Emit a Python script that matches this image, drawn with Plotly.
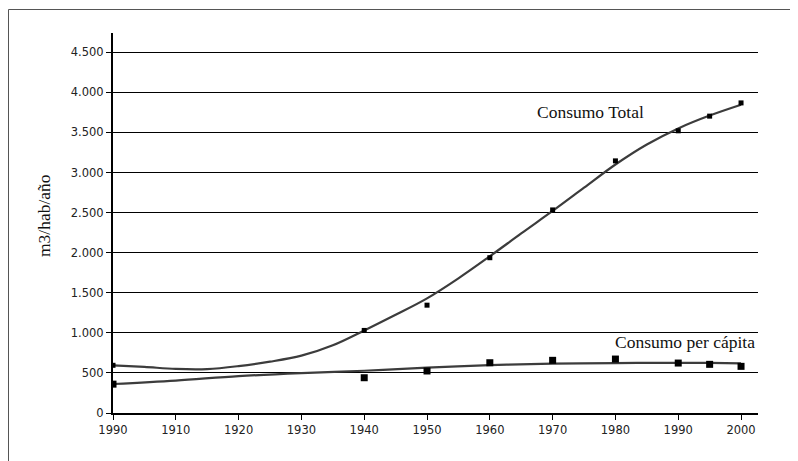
import plotly.graph_objects as go

# Tick labels (as printed on the chart)
x_tickvals = [1900, 1910, 1920, 1930, 1940, 1950, 1960, 1970, 1980, 1990, 2000]
x_ticktext = ["1990", "1910", "1920", "1930", "1940", "1950", "1960", "1970", "1980", "1990", "2000"]
y_tickvals = [0, 500, 1000, 1500, 2000, 2500, 3000, 3500, 4000, 4500]
y_ticktext = ["0", "500", "1.000", "1.500", "2.000", "2.500", "3.000", "3.500", "4.000", "4.500"]

# Observed points
total_years = [1900, 1940, 1950, 1960, 1970, 1980, 1990, 1995, 2000]
total_values = [595, 1030, 1345, 1937, 2533, 3145, 3520, 3703, 3868]
percap_years = [1900, 1940, 1950, 1960, 1970, 1980, 1990, 1995, 2000]
percap_values = [360, 440, 524, 627, 657, 673, 623, 607, 582]

# Trend curves
total_curve_years = [1900, 1905, 1910, 1915, 1920, 1925, 1930, 1935, 1940, 1945, 1950,
                     1955, 1960, 1965, 1970, 1975, 1980, 1985, 1990, 1995, 2000]
total_curve_values = [595, 575, 550, 548, 585, 640, 715, 845, 1030, 1225, 1430,
                      1680, 1955, 2240, 2520, 2810, 3100, 3350, 3550, 3710, 3845]
percap_curve_years = [1900, 1910, 1920, 1930, 1940, 1950, 1960, 1970, 1980, 1990, 1995, 2000]
percap_curve_values = [362, 405, 460, 498, 527, 566, 597, 616, 623, 626, 624, 619]

curve_color = "#3c3c3c"

fig = go.Figure()
fig.add_trace(go.Scatter(x=total_curve_years, y=total_curve_values, mode="lines",
                         line=dict(color=curve_color, width=2.2, shape="spline"),
                         hoverinfo="skip", showlegend=False))
fig.add_trace(go.Scatter(x=percap_curve_years, y=percap_curve_values, mode="lines",
                         line=dict(color=curve_color, width=2.2, shape="spline"),
                         hoverinfo="skip", showlegend=False))
fig.add_trace(go.Scatter(x=total_years, y=total_values, mode="markers",
                         marker=dict(symbol="square", size=5, color="black"),
                         name="Consumo Total", showlegend=False))
fig.add_trace(go.Scatter(x=percap_years, y=percap_values, mode="markers",
                         marker=dict(symbol="square", size=7, color="black"),
                         name="Consumo per cápita", showlegend=False))

# page offset (body margin) is 8px
OFF = 8
W, H = 798, 461
plot_left, plot_right, plot_top, plot_bottom = 113, 758, 33, 413  # page pixels
L = plot_left - OFF
T = plot_top - OFF
pw = plot_right - plot_left
ph = plot_bottom - plot_top
R = W - L - pw
B = H - T - ph

def px_to_paper_x(px):
    return (px - plot_left) / pw

def px_to_paper_y(py):
    return (plot_bottom - py) / ph

serif = "Liberation Serif, Times New Roman, serif"
sans = "DejaVu Sans, Verdana, sans-serif"

fig.update_layout(
    width=W, height=H,
    margin=dict(l=L, r=R, t=T, b=B),
    paper_bgcolor="white", plot_bgcolor="white",
    showlegend=False,
    xaxis=dict(range=[1900, 2002.7], tickvals=x_tickvals, ticktext=x_ticktext,
               showgrid=False, zeroline=False, showline=True, linecolor="black", linewidth=2,
               ticks="outside", ticklen=5, tickcolor="black", tickwidth=1,
               tickfont=dict(family=sans, size=11.5, color="#222")),
    yaxis=dict(range=[0, 4740], tickvals=y_tickvals, ticktext=y_ticktext,
               showgrid=True, gridcolor="black", gridwidth=1, zeroline=False,
               showline=True, linecolor="black", linewidth=2,
               ticks="outside", ticklen=5, tickcolor="black", tickwidth=1,
               tickfont=dict(family=sans, size=11.5, color="#222")),
    annotations=[
        dict(text="m3/hab/año", xref="paper", yref="paper",
             x=px_to_paper_x(44), y=px_to_paper_y(216), textangle=-90, showarrow=False,
             font=dict(family=serif, size=17.5, color="#111"), xanchor="center", yanchor="middle"),
        dict(text="Consumo Total", xref="paper", yref="paper",
             x=px_to_paper_x(590), y=px_to_paper_y(112), showarrow=False,
             font=dict(family=serif, size=17.5, color="#111"), xanchor="center", yanchor="middle"),
        dict(text="Consumo per cápita", xref="paper", yref="paper",
             x=px_to_paper_x(685), y=px_to_paper_y(342), showarrow=False,
             font=dict(family=serif, size=17.5, color="#111"), xanchor="center", yanchor="middle"),
    ],
    shapes=[
        dict(type="rect", xref="paper", yref="paper",
             x0=px_to_paper_x(OFF + 0.5), y0=px_to_paper_y(480), x1=px_to_paper_x(830),
             y1=px_to_paper_y(9.5),
             line=dict(color="#555", width=1), fillcolor="rgba(0,0,0,0)", layer="below"),
    ],
)

fig.write_html("out.html")
